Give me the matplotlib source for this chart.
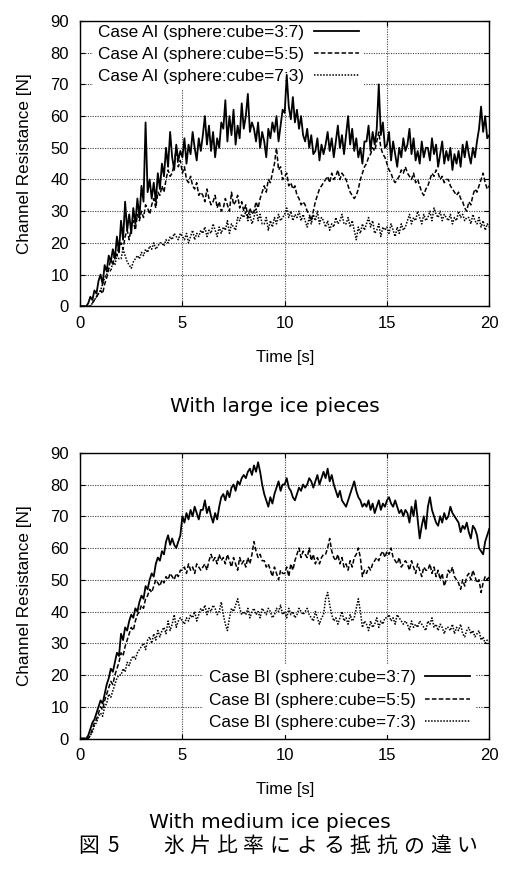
import matplotlib
matplotlib.use("Agg")
import matplotlib.pyplot as plt
import numpy as np

plt.rcParams["font.family"] = ["Liberation Sans", "Noto Sans CJK JP", "DejaVu Sans"]

# sample times, 0.1 s step
time = np.linspace(0, 20, 201)

# Case AI, large ice pieces
ai_37 = [
    0, 0, 0, 0, 1, 3, 2, 5, 4, 8,
    10, 7, 13, 11, 16, 14, 18, 15, 22, 17,
    27, 21, 33, 24, 29, 23, 31, 26, 34, 28,
    38, 33, 58, 36, 40, 34, 39, 33, 42, 37,
    45, 41, 50, 44, 55, 47, 43, 51, 46, 49,
    47, 53, 45, 51, 48, 55, 50, 46, 53, 49,
    54, 60, 51, 57, 49, 55, 47, 53, 50, 58,
    56, 65, 52, 60, 54, 62, 51, 57, 53, 64,
    56, 60, 67, 55, 58, 56, 52, 58, 50, 55,
    52, 47, 56, 53, 58, 55, 60, 52, 57, 62,
    61, 73, 63, 59, 66, 58, 62, 56, 60, 54,
    52, 56, 50, 54, 48, 49, 53, 46, 51, 48,
    51, 55, 49, 53, 47, 52, 57, 50, 54, 48,
    54, 60, 51, 56, 49, 53, 47, 50, 45, 52,
    52, 57, 49, 55, 51, 56, 70, 54, 58, 50,
    51, 55, 46, 52, 48, 44, 50, 47, 53, 49,
    51, 56, 48, 53, 46, 49, 45, 52, 47, 50,
    50, 46, 53, 48, 51, 44, 48, 52, 45, 49,
    46, 50, 43, 48, 45, 49, 44, 51, 47, 52,
    48, 45, 50, 47, 52, 56, 63, 55, 60, 53,
    54,
]
ai_55 = [
    0, 0, 0, 0, 0, 0, 1, 2, 3, 4,
    5, 4, 7, 9, 12, 15, 13, 17, 16, 19,
    20, 18, 22, 24, 21, 25, 27, 24, 29, 27,
    30, 28, 32, 31, 29, 32, 34, 31, 36, 35,
    38, 36, 40, 43, 41, 42, 45, 50, 44, 46,
    42, 44, 40, 39, 41, 38, 37, 39, 35, 36,
    35, 33, 37, 34, 32, 33, 35, 31, 33, 30,
    31, 34, 32, 30, 36, 32, 33, 35, 31, 33,
    30, 32, 28, 31, 29, 30, 33, 31, 34, 36,
    38, 36, 40, 39, 42, 45, 50, 43, 44, 40,
    41, 42, 38, 39, 37, 38, 35, 34, 32, 33,
    32, 30, 29, 27, 30, 33, 35, 37, 38, 39,
    40, 41, 39, 42, 40, 41, 43, 40, 42, 41,
    40, 38, 36, 35, 34, 35, 37, 40, 42, 44,
    45, 47, 48, 50, 49, 52, 55, 50, 48, 47,
    45, 43, 42, 40, 39, 40, 41, 43, 42, 44,
    42, 41, 40, 42, 39, 40, 38, 36, 35, 37,
    38, 40, 42, 41, 43, 42, 40, 41, 39, 40,
    40, 38, 37, 36, 35, 36, 34, 33, 31, 30,
    33, 32, 35, 37, 36, 38, 40, 42, 39, 37,
    38,
]
ai_73 = [
    0, 0, 0, 0, 0, 0, 1, 2, 3, 4,
    5, 7, 9, 10, 12, 11, 14, 13, 16, 15,
    15, 18, 16, 14, 13, 12, 14, 15, 16, 15,
    17, 16, 18, 17, 19, 18, 20, 18, 19, 20,
    20, 19, 21, 20, 22, 21, 23, 22, 21, 23,
    22, 21, 23, 20, 22, 24, 21, 23, 22, 24,
    23, 25, 22, 24, 23, 26, 24, 22, 25, 23,
    25, 24, 27, 23, 26, 25, 24, 28, 27, 29,
    28, 30, 27, 29, 26, 28, 31, 27, 29, 26,
    26, 28, 24, 27, 25, 28, 26, 29, 27, 28,
    29, 31, 28, 30, 27, 29, 28, 30, 27, 29,
    27, 25, 28, 26, 29, 27, 30, 26, 28, 27,
    25, 27, 24, 26, 25, 28, 26, 27, 29, 26,
    26, 28, 25, 27, 24, 21, 25, 23, 26, 24,
    26, 28, 25, 27, 23, 24, 26, 22, 25, 24,
    25, 23, 26, 24, 22, 25, 23, 26, 24, 25,
    27, 29, 26, 28, 27, 30, 28, 26, 29, 27,
    28, 30, 27, 31, 29, 28, 30, 27, 29, 28,
    27, 29, 26, 28, 27, 30, 28, 29, 27, 28,
    28, 26, 29, 27, 26, 28, 25, 27, 24, 26,
    25,
]

# Case BI, medium ice pieces
bi_37 = [
    0, 0, 0, 0, 1, 3, 5, 6, 8, 10,
    12, 11, 14, 17, 19, 22, 21, 24, 27, 26,
    33, 31, 35, 34, 37, 39, 38, 41, 40, 43,
    45, 44, 48, 47, 50, 52, 51, 55, 57, 56,
    59, 58, 62, 64, 61, 63, 61, 60, 62, 64,
    70, 68, 71, 69, 72, 70, 73, 71, 69, 72,
    72, 75, 71, 73, 70, 68, 71, 69, 73, 76,
    77, 75, 78, 76, 79, 80, 78, 81, 80, 82,
    83, 82, 84, 85, 83, 86, 84, 87, 84, 80,
    77, 75, 73, 76, 74, 77, 79, 81, 78, 80,
    80, 82, 79, 78, 76, 75, 77, 79, 78, 80,
    79, 80, 82, 81, 79, 81, 83, 80, 82, 84,
    82, 85, 81, 83, 80, 78, 76, 78, 75, 74,
    73, 75, 77, 79, 81, 78, 76, 75, 73, 74,
    73, 75, 72, 74, 71, 73, 75, 72, 74, 73,
    75, 76, 74, 73, 75, 73, 71, 72, 70, 72,
    71, 68, 73, 70, 75, 69, 63, 67, 70, 66,
    73, 76, 72, 70, 68, 67, 70, 68, 71, 69,
    70, 73, 71, 70, 69, 68, 65, 67, 66, 68,
    65, 63, 67, 66, 64, 60, 59, 58, 62, 64,
    66,
]
bi_55 = [
    0, 0, 0, 0, 0, 1, 3, 5, 6, 8,
    10, 9, 12, 14, 16, 18, 17, 20, 22, 24,
    27, 26, 29, 31, 33, 35, 34, 37, 39, 40,
    42, 41, 44, 45, 47, 46, 48, 50, 49, 48,
    50, 49, 51, 50, 52, 51, 50, 52, 51, 53,
    53, 54, 52, 55, 53, 54, 52, 55, 54, 53,
    54, 55, 53, 56, 58, 56, 57, 55, 58, 56,
    57, 55, 58, 56, 54, 57, 55, 53, 57, 55,
    56, 54, 57, 55, 58, 62, 59, 57, 58, 56,
    56, 54, 55, 53, 51, 54, 52, 50, 53, 52,
    52, 54, 51, 55, 53, 56, 58, 60, 57, 59,
    58, 57, 60, 56, 58, 55, 57, 55, 57, 58,
    58, 60, 63, 59, 57, 56, 58, 55, 57, 54,
    55, 53, 56, 54, 57, 58, 60, 57, 51, 53,
    52, 54, 53, 55, 56, 57, 56, 58, 59, 57,
    59, 58, 60, 57, 56, 55, 57, 54, 55, 56,
    55, 53, 56, 54, 52, 55, 53, 51, 54, 53,
    53, 55, 52, 54, 51, 53, 50, 52, 48, 50,
    53, 52, 54, 51, 50, 49, 47, 50, 48, 51,
    52, 50, 53, 51, 49, 50, 46, 49, 51, 50,
    51,
]
bi_73 = [
    0, 0, 0, 0, 0, 1, 2, 4, 5, 7,
    8, 7, 10, 11, 14, 13, 15, 17, 19, 20,
    20, 22, 21, 24, 23, 25, 26, 25, 27, 28,
    29, 30, 28, 31, 32, 30, 33, 31, 34, 32,
    34, 35, 33, 37, 34, 36, 39, 35, 37, 38,
    37, 36, 38, 37, 39, 38, 40, 37, 39, 41,
    40, 42, 39, 41, 40, 42, 41, 39, 40, 43,
    39, 36, 34, 38, 41, 40, 42, 44, 41, 39,
    40, 39, 41, 38, 40, 41, 39, 40, 38, 41,
    40, 39, 41, 40, 38, 39, 41, 40, 42, 39,
    40, 38, 41, 39, 40, 38, 39, 41, 40, 39,
    40, 41, 39, 38, 37, 40, 38, 36, 38, 39,
    44, 46, 42, 39, 37, 38, 36, 38, 40, 37,
    38, 36, 39, 37, 38, 41, 44, 40, 35, 37,
    36, 34, 37, 35, 36, 38, 35, 37, 36, 38,
    38, 39, 37, 38, 36, 39, 38, 37, 36, 37,
    36, 34, 37, 35, 36, 35, 37, 36, 35, 34,
    37, 36, 38, 35, 36, 34, 36, 35, 33, 35,
    35, 34, 36, 33, 35, 34, 36, 33, 32, 34,
    35, 33, 34, 32, 33, 34, 31, 32, 30, 31,
    31,
]

labels_a = ["Case AI (sphere:cube=3:7)", "Case AI (sphere:cube=5:5)", "Case AI (sphere:cube=7:3)"]
labels_b = ["Case BI (sphere:cube=3:7)", "Case BI (sphere:cube=5:5)", "Case BI (sphere:cube=7:3)"]
styles = ["-", (0, (3, 1.5)), (0, (1, 1))]
widths = [1.3, 1.1, 1.1]

fig = plt.figure(figsize=(5.07, 8.93), dpi=100)
ax1 = fig.add_axes([0.158, 0.657, 0.807, 0.3195])
ax2 = fig.add_axes([0.158, 0.173, 0.807, 0.320])


def draw(ax, series, labels, loc, anchor):
    for y, lab, ls, lw in zip(series, labels, styles, widths):
        ax.plot(time, y, color="black", linestyle=ls, lw=lw, label=lab)
    ax.set_xlim(0, 20)
    ax.set_ylim(0, 90)
    ax.set_xticks([0, 5, 10, 15, 20])
    ax.set_yticks(range(0, 91, 10))
    ax.tick_params(direction="in", top=True, right=True, length=3.5,
                   labelsize=12)
    ax.tick_params(axis="x", pad=7)
    ax.tick_params(axis="y", pad=8)
    ax.grid(True, color="#444444", linestyle=(0, (1, 1.2)), lw=0.8)
    ax.set_ylabel("Channel Resistance [N]", fontsize=12.3)
    ax.yaxis.set_label_coords(-0.118, 0.5)
    ax.set_xlabel("Time [s]", fontsize=12)
    ax.xaxis.set_label_coords(0.5, -0.152)
    for s in ax.spines.values():
        s.set_linewidth(1.0)
    leg = ax.legend(loc=loc, bbox_to_anchor=anchor, markerfirst=False,
                    fontsize=12.4, frameon=True, fancybox=False, framealpha=1,
                    handlelength=2.6, handletextpad=0.58, labelspacing=0.42,
                    borderaxespad=0, borderpad=0.3)
    leg.get_frame().set_edgecolor("none")
    leg.get_frame().set_linewidth(0)
    leg.set_zorder(1.8)


draw(ax1, [ai_37, ai_55, ai_73], labels_a, "upper left", (0.032, 1.005))
draw(ax2, [bi_37, bi_55, bi_73], labels_b, "lower right", (0.966, 0.0115))

fig.text(275 / 507, 1 - 411.5 / 893, "With large ice pieces", ha="center",
         va="baseline", fontsize=14.5, family=["DejaVu Sans"])
fig.text(270 / 507, 1 - 827.5 / 893, "With medium ice pieces", ha="center",
         va="baseline", fontsize=14.5, family=["DejaVu Sans"])

# caption
cap_y = 1 - 846 / 893
fig.text(78 / 507, cap_y, "図", ha="left", va="center", fontsize=15,
         family=["Noto Sans CJK JP"])
fig.text(107 / 507, cap_y, "5", ha="left", va="center", fontsize=15,
         family=["Noto Sans CJK JP"])
caption = "氷片比率による抵抗の違い"
for i, ch in enumerate(caption):
    fig.text((163 + i * 26.7) / 507, cap_y, ch, ha="left", va="center",
             fontsize=15, family=["Noto Sans CJK JP"])

fig.savefig("out.png", dpi=100)
